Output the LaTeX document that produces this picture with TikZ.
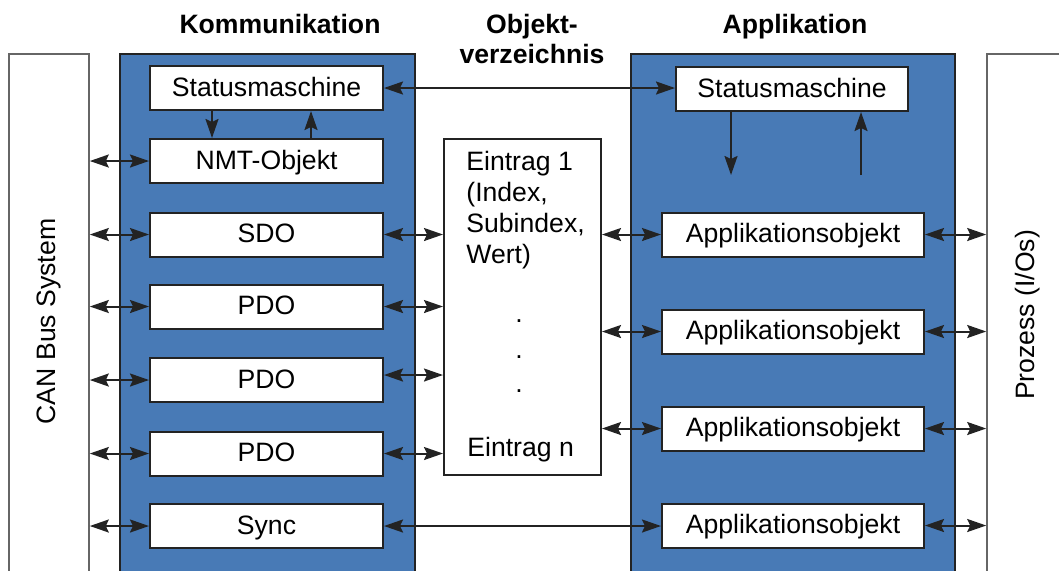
\documentclass[tikz,border=0pt]{standalone}
\usepackage{fontspec}
\setmainfont{Liberation Sans}
\usetikzlibrary{arrows.meta,calc}

\definecolor{panelblue}{RGB}{72,122,182}
\definecolor{linegray}{RGB}{35,35,35}

\begin{document}
\begin{tikzpicture}
		[x=0.5pt,y=-0.5pt,
		 font=\fontsize{13.3}{15.5}\selectfont,
		 obj/.style= {draw=linegray,fill=white,line width=1pt,inner sep=0pt,minimum height=22pt,
			text height=9.5pt,text depth=1.5pt},
		 lobj/.style= {obj,minimum width=116.5pt},
		 aobj/.style= {obj,minimum width=131pt},
		 side/.style= {draw=black!60,fill=white,line width=0.8pt,inner sep=0pt},
		 panel/.style= {draw=linegray,fill=panelblue,line width=0.8pt,inner sep=0pt,minimum height=268pt},
		 head/.style= {font=\fontsize{13.3}{15}\selectfont\bfseries,align=center,anchor=base},
		 dbl/.style= {linegray,line width=1pt,{Stealth[length=9.5pt,width=6.5pt,inset=1.5pt]}-{Stealth[length=9.5pt,width=6.5pt,inset=1.5pt]}},
		 sgl/.style= {linegray,line width=1pt,-{Stealth[length=9.5pt,width=6.5pt,inset=1.5pt]}}]

		\useasboundingbox (0,0) rectangle (1059,570);

		% outer blocks
		\node[side,minimum width=40pt,minimum height=267.5pt,
			label={[rotate=90]center:CAN Bus System}] (can) at (49,321.5) {}
		;
		\node[side,minimum width=41pt,minimum height=261pt,
			label={[rotate=90]center:Prozess (I/Os)}] (proz) at (1028,315) {}
		;
		\node[panel,minimum width=147.5pt] (kom) at (267.5,322) {};
		\node[panel,minimum width=162pt] (app) at (793,322) {};

		% headings (base = last line)
		\node[head] (hkom) at (280,33) {Kommunikation};
		\node[head] (hod) at (532,63) {Objekt-\\verzeichnis};
		\node[head] (happ) at (795,33) {Applikation};

		% Kommunikation
		\node[lobj] (smL) at (266.5,88) {Statusmaschine};
		\node[lobj] (nmt) at (266.5,161) {NMT-Objekt};
		\node[lobj] (sdo) at (266.5,234.5) {SDO};
		\node[lobj] (pdoA) at (266.5,306.5) {PDO};
		\node[lobj] (pdoB) at (266.5,380) {PDO};
		\node[lobj] (pdoC) at (266.5,453.5) {PDO};
		\node[lobj] (sync) at (266.5,526) {Sync};

		% Objektverzeichnis
		\node[obj,minimum width=78.5pt,minimum height=168pt,text height=,text depth=] (od) at (522.5,307) {};
		\node[anchor=base west,align=left,inner sep=0pt] (e1) at (466,263)
			{Eintrag 1\\(Index,\\Subindex,\\Wert)};
		\foreach \y [count=\i] in {321,357,391}
			\node[inner sep=0pt] (dot\i) at (519,\y) {.};
		\node[anchor=base west,inner sep=0pt] (en) at (467,456) {Eintrag n};

		% Applikation
		\node[obj,minimum width=116pt] (smR) at (792,89) {Statusmaschine};
		\node[aobj] (app1) at (793,234.5) {Applikationsobjekt};
		\node[aobj] (app2) at (793,331.5) {Applikationsobjekt};
		\node[aobj] (app3) at (793,428.5) {Applikationsobjekt};
		\node[aobj] (app4) at (793,525.5) {Applikationsobjekt};

		% connections
		\draw[dbl] (smL.east) -- (smL.east -| smR.west);
		\draw[sgl] ($(smL.south)+(-54.5,0)$) -- ($(nmt.north)+(-54.5,0)$);
		\draw[sgl] ($(nmt.north)+(44.5,0)$) -- ($(smL.south)+(44.5,0)$);

		\coordinate (smRd) at (731,175);
		\coordinate (smRu) at (861,175);
		\draw[sgl] (smRd |- smR.south) -- (smRd);
		\draw[sgl] (smRu) -- (smRu |- smR.south);

		\foreach \n in {nmt,sdo,pdoA,pdoB,pdoC,sync}
			\draw[dbl] (\n.west -| can.east) -- (\n.west);
		\foreach \n in {sdo,pdoA,pdoC}
			\draw[dbl] (\n.east) -- (\n.east -| od.west);
		\draw[dbl] ($(pdoB.east)+(0,-5)$) -- ($(pdoB.east -| od.west)+(0,-5)$);
		\draw[dbl] (sync.east) -- (sync.east -| app4.west);

		\foreach \n in {app1,app2,app3}
			\draw[dbl] (\n.west -| od.east) -- (\n.west);
		\foreach \n in {app1,app2,app3,app4}
			\draw[dbl] (\n.east) -- (\n.east -| proz.west);

\end{tikzpicture}
\end{document}
